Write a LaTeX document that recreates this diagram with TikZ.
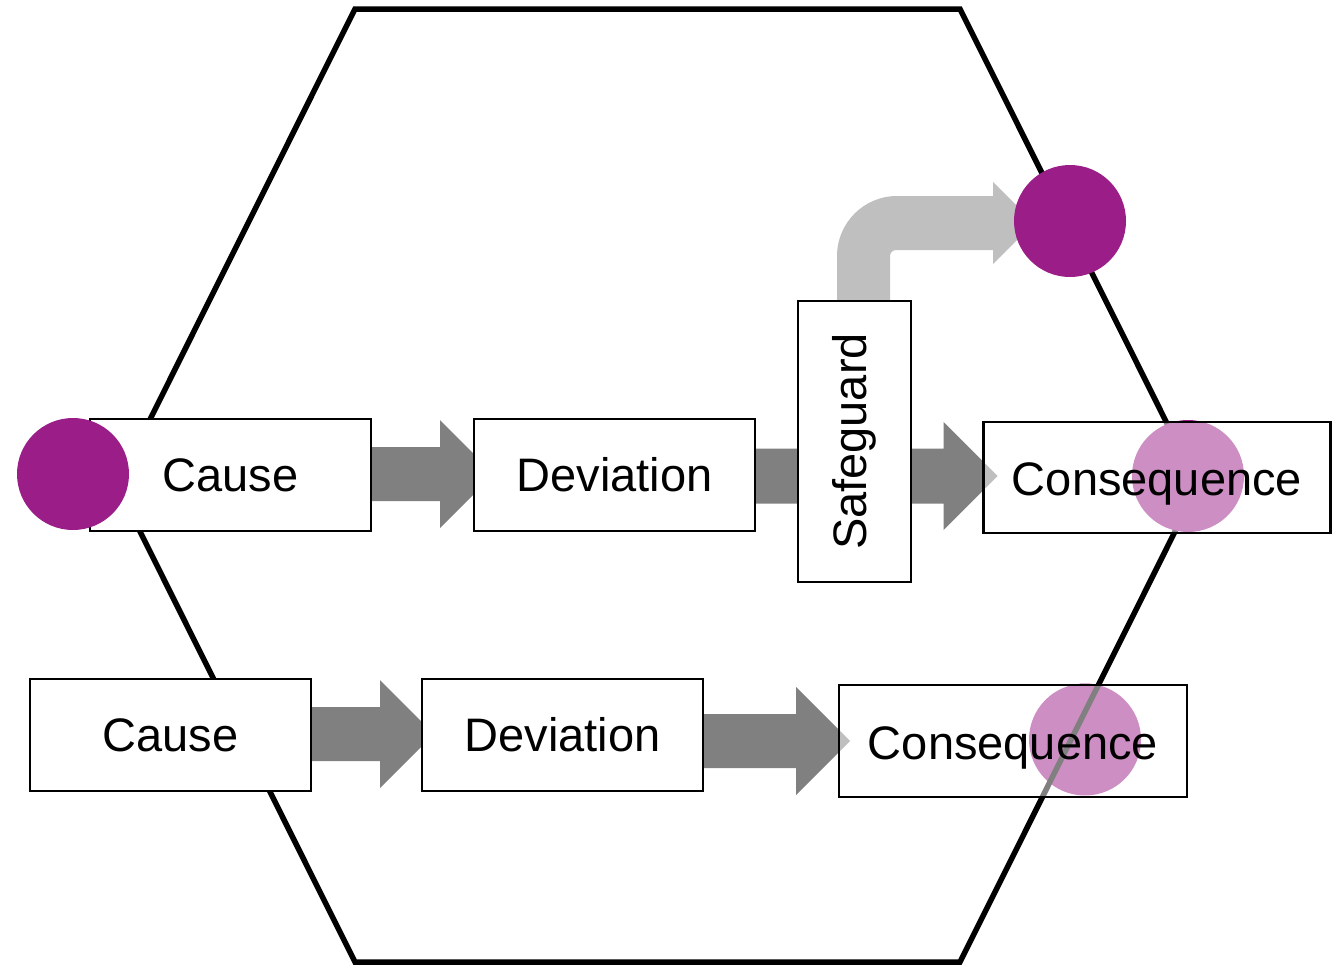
\documentclass[tikz,border=0pt]{standalone}
\usepackage{fontspec}
\setmainfont{Liberation Sans}
\usetikzlibrary{calc}

\definecolor{plum}{RGB}{155,29,135}
\definecolor{flowgray}{RGB}{128,128,128}
\definecolor{bypassgray}{RGB}{191,191,191}

\tikzset{
  stagebox/.style={draw=black, line width=2.5pt, fill=white, inner sep=0pt,
    minimum width=281pt, minimum height=112pt,
    font=\fontsize{47}{56}\selectfont},
  outcomebox/.style={stagebox, fill opacity=0.5, text opacity=1,
    text height=36pt, text depth=0pt,
    minimum width=347pt, minimum height=111pt},
  barrierbox/.style={stagebox, minimum width=113pt, minimum height=281pt},
  marker/.style={circle, fill=plum, draw=none, minimum size=112pt, inner sep=0pt},
  hexline/.style={line width=5.5pt, line join=miter},
}

% straight block arrow: #1 start, #2 tip, #3 shaft half width, #4 head half width, #5 head length
\newcommand\blockarrow[5]{%
  \fill[flowgray] let \p1=(#1), \p2=(#2) in
    (\x1,\y2+#3) -- (\x2-#5,\y2+#3) -- (\x2-#5,\y2+#4) -- (\x2,\y2)
    -- (\x2-#5,\y2-#4) -- (\x2-#5,\y2-#3) -- (\x1,\y2-#3) -- cycle;}

\begin{document}
\begin{tikzpicture}[x=1pt,y=-1pt]
\useasboundingbox (0,0) rectangle (1336,964);

% box positions (no drawing yet)
\path
  (230.5,475)  coordinate (pcause1)
  (614.5,475)  coordinate (pdev1)
  (854.5,441.5) coordinate (psafe)
  (1157,477.5) coordinate (pcons1)
  (170.5,735)  coordinate (pcause2)
  (562.5,735)  coordinate (pdev2)
  (1013,741)   coordinate (pcons2);

% hexagon corners
\coordinate (h1) at (355,9);
\coordinate (h2) at (960,9);
\coordinate (h3) at (1198,485.5);
\coordinate (h4) at (960,962);
\coordinate (h5) at (355,962);
\coordinate (h6) at (117,485.5);

% invisible anchors for the arrows
\path (pcause1) ++(140.5,0) coordinate (c1e);
\path (pdev1)   ++(-140.5,0) coordinate (d1w) ++(281,0) coordinate (d1e);
\path (pcons1)  ++(-173.5,0) coordinate (k1w);
\path (pcause2) ++(140.5,0) coordinate (c2e);
\path (pdev2)   ++(-140.5,0) coordinate (d2w) ++(281,0) coordinate (d2e);
\path (pcons2)  ++(-174,0) coordinate (k2w);

% grey flow arrows
\blockarrow{c1e}{$(d1w)+(20,-1)$}{27pt}{54pt}{54pt}
\blockarrow{d1e}{$(k1w)+(14,-1.5)$}{27.5pt}{54pt}{54pt}
\blockarrow{c2e}{$(d2w)+(12,-1)$}{27pt}{54pt}{54pt}
\blockarrow{d2e}{$(k2w)+(11,0)$}{27pt}{54pt}{54pt}

% marker behind the lower consequence
\node[marker] (dot2) at (1085,739.5) {};

% boundary hexagon
\draw[hexline] (h1) -- (h2) -- (h3) -- (h4) -- (h5) -- (h6) -- cycle;

% marker behind the upper consequence
\node[marker] (dot1) at (1188,476) {};

% bypass arrow from the safeguard
\node[draw=none, inner sep=0pt, minimum size=0pt] (ringpos) at (1070,221) {};
\fill[bypassgray] let \p1=(psafe), \p2=(ringpos.center),
    \n1={\y1+140.5pt}, \n2={\y2-2pt} in
  (\x1-17.5pt,\n1) -- (\x1-17.5pt,\n2+27pt-60pt)
  arc[start angle=180, end angle=90, radius=60pt]
  -- (\x2-77pt,\n2+27pt) -- (\x2-77pt,\n2+41pt) -- (\x2-36pt,\n2)
  -- (\x2-77pt,\n2-41pt) -- (\x2-77pt,\n2-27pt) -- (\x1+41.5pt,\n2-27pt)
  arc[start angle=90, end angle=180, radius=6pt]
  -- (\x1+35.5pt,\n1) -- cycle;

\node[marker] (ring) at (ringpos) {};

% boxes
\node[stagebox]  (cause1) at (pcause1) {Cause};
\node[stagebox]  (dev1)   at (pdev1)   {Deviation};
\node[barrierbox] (safe)  at (psafe)   {\rotatebox{90}{Safeguard}};
\node[outcomebox] (cons1) at (pcons1)  {Consequence};
\node[stagebox]  (cause2) at (pcause2) {Cause};
\node[stagebox]  (dev2)   at (pdev2)   {Deviation};
\node[outcomebox, minimum width=348pt, minimum height=112pt] (cons2) at (pcons2) {Consequence};

% start marker over the first cause
\node[marker] (dot0) at (73,474) {};
\end{tikzpicture}
\end{document}
